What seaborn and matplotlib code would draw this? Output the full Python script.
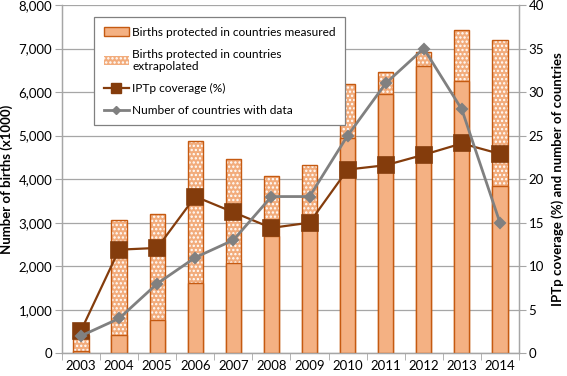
import numpy as np
import pandas as pd
import matplotlib
matplotlib.use("Agg")
import matplotlib.pyplot as plt
import seaborn as sns
from matplotlib.patches import Patch
from matplotlib.lines import Line2D

# ---- data ----
years = ["2003", "2004", "2005", "2006", "2007", "2008", "2009",
         "2010", "2011", "2012", "2013", "2014"]
births_measured = [60, 420, 765, 1610, 2070, 2700, 2850, 4940, 5950, 6600, 6260, 3850]
births_total = [420, 3065, 3210, 4880, 4465, 4065, 4320, 6185, 6450, 6920, 7430, 7185]
iptp_coverage = [2.6, 11.9, 12.1, 18.0, 16.2, 14.4, 15.0, 21.1, 21.6, 22.8, 24.1, 22.9]
n_countries = [2, 4, 8, 11, 13, 18, 18, 25, 31, 35, 28, 15]
left_ticks = [0, 1000, 2000, 3000, 4000, 5000, 6000, 7000, 8000]
right_ticks = [0, 5, 10, 15, 20, 25, 30, 35, 40]

df = pd.DataFrame({"year": years, "measured": births_measured, "total": births_total,
                   "iptp": iptp_coverage, "countries": n_countries})

plt.rcParams["font.family"] = ["Lato", "DejaVu Sans"]
plt.rcParams["hatch.linewidth"] = 1.1

FC = "#F4B183"
EDGE = "#C55A11"
DOT_FC = "#F2AC7C"
BROWN = "#843C0C"
GRAY = "#808080"
GRID = "#A6A6A6"
HATCH = "...."

fig = plt.figure(figsize=(5.67, 3.76), dpi=100)
ax = fig.add_axes([0.1093, 0.0604, 0.806, 0.9263])

# extrapolated (total) bars with dotted pattern
sns.barplot(data=df, x="year", y="total", color=DOT_FC, width=0.4, saturation=1,
            errorbar=None, ax=ax, zorder=2)
for p in ax.patches:
    p.set_edgecolor("white")
    p.set_hatch(HATCH)
    p.set_linewidth(0)
n0 = len(ax.patches)
# outline of total bars
sns.barplot(data=df, x="year", y="total", color=EDGE, fill=False, width=0.4,
            saturation=1, errorbar=None, ax=ax, zorder=3)
for p in ax.patches[n0:]:
    p.set_edgecolor(EDGE)
    p.set_facecolor("none")
    p.set_linewidth(1.0)
n1 = len(ax.patches)
# measured bars
sns.barplot(data=df, x="year", y="measured", color=FC, width=0.4, saturation=1,
            errorbar=None, ax=ax, zorder=4)
for p in ax.patches[n1:]:
    p.set_edgecolor(EDGE)
    p.set_facecolor(FC)
    p.set_linewidth(1.0)

ax.set_ylim(0, 8000)
ax.set_yticks(left_ticks)
ax.set_yticklabels([f"{v:,}" for v in left_ticks])
ax.set_xlim(-0.5, len(years) - 0.5)
ax.grid(axis="y", color=GRID, lw=0.9, zorder=0)
ax.set_axisbelow(True)
ax.set_xlabel("")
ax.set_ylabel("Number of births (x1000)", fontsize=9.5, fontweight="bold", labelpad=4)

ax2 = ax.twinx()
sns.pointplot(data=df, x="year", y="iptp", color=BROWN, markers="s",
              linestyles="-", errorbar=None, ax=ax2, markersize=11, linewidth=1.6)
sns.pointplot(data=df, x="year", y="countries", color=GRAY, markers="D",
              linestyles="-", errorbar=None, ax=ax2, markersize=5, linewidth=2)
ax2.set_ylim(0, 40)
ax2.set_yticks(right_ticks)
ax2.set_xlim(-0.5, len(years) - 0.5)
ax2.set_xlabel("")
ax2.set_ylabel("IPTp coverage (%) and number of countries", fontsize=9.5,
               fontweight="bold", labelpad=5)

for a in (ax, ax2):
    a.spines["top"].set_visible(False)
    for s in ("left", "right", "bottom"):
        a.spines[s].set_color(GRID)
        a.spines[s].set_linewidth(0.9)
ax.tick_params(axis="y", length=5, color=GRID, labelsize=9.5, pad=2)
ax2.tick_params(axis="y", length=5, color=GRID, labelsize=9.5, pad=2)
ax.tick_params(axis="x", which="major", length=0, labelsize=9.5, pad=5)
ax.set_xticks(np.arange(-0.5, len(years), 1.0), minor=True)
ax.tick_params(axis="x", which="minor", length=5, color=GRID)

handles = [
    Patch(facecolor=FC, edgecolor=EDGE, lw=1),
    Patch(facecolor=DOT_FC, edgecolor="white", hatch=HATCH, lw=0),
    Line2D([], [], color=BROWN, marker="s", markersize=7, lw=1.6),
    Line2D([], [], color=GRAY, marker="D", markersize=4, lw=2),
]
labels = ["Births protected in countries measured",
          "Births protected in countries\nextrapolated",
          "IPTp coverage (%)",
          "Number of countries with data"]
leg = ax2.legend(handles, labels, loc="upper left", bbox_to_anchor=(0.057, 0.982),
                 fontsize=8.6, frameon=True, fancybox=False, framealpha=1,
                 edgecolor=GRAY, handlelength=2.1, handleheight=0.75,
                 labelspacing=0.9, borderpad=0.8, handletextpad=0.3)
leg.get_frame().set_linewidth(0.9)

fig.savefig("out.png", dpi=100)
